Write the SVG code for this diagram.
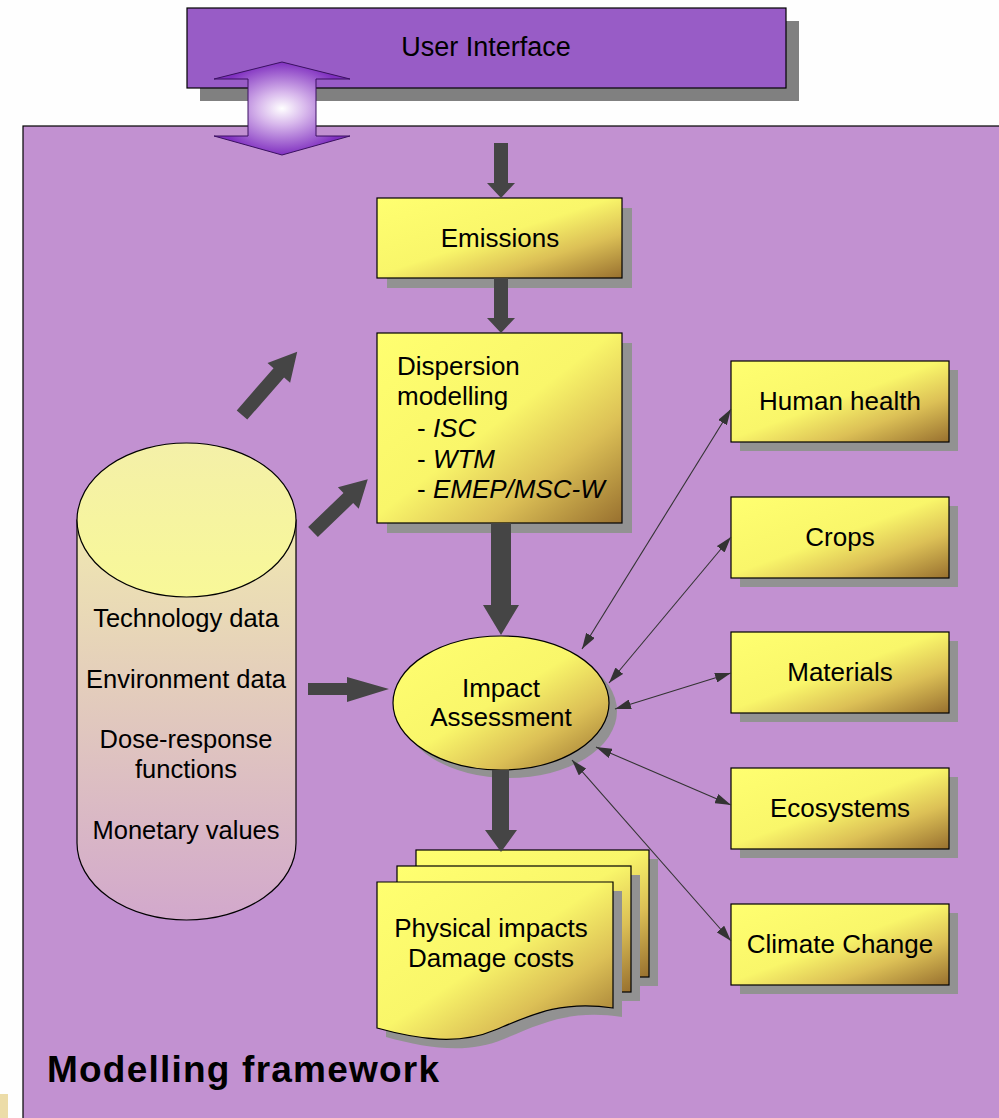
<svg xmlns="http://www.w3.org/2000/svg" width="999" height="1118" viewBox="0 0 999 1118">
<style>
text{font-family:"Liberation Sans",Arial,sans-serif;fill:#000;}
.t{font-size:26px;}
.c{text-anchor:middle;}
.box{stroke:#000;stroke-width:1.2;fill:url(#yel);}
.sh{fill:#929292;}
.dark{fill:#454545;}
.thin{stroke:#333;stroke-width:1.1;fill:none;marker-start:url(#ah);marker-end:url(#ah);}
</style>
<defs>
<linearGradient id="yel" x1="0" y1="0" x2="1" y2="1">
<stop offset="0" stop-color="#ffff70"/>
<stop offset="0.48" stop-color="#f9f66a"/>
<stop offset="0.72" stop-color="#dcc056"/>
<stop offset="1" stop-color="#98702f"/>
</linearGradient>
<linearGradient id="cyl" x1="0" y1="0" x2="0" y2="1">
<stop offset="0" stop-color="#f0e8b0"/>
<stop offset="1" stop-color="#d2a8cc"/>
</linearGradient>
<linearGradient id="cyltop" x1="0" y1="0" x2="0" y2="1">
<stop offset="0" stop-color="#f4f0a8"/>
<stop offset="1" stop-color="#f8f898"/>
</linearGradient>
<radialGradient id="glow" cx="0.5" cy="0.5" r="0.5">
<stop offset="0" stop-color="#ffffff"/>
<stop offset="0.35" stop-color="#d8b8ec"/>
<stop offset="1" stop-color="#8030c0"/>
</radialGradient>
<marker id="ah" viewBox="0 0 16 10" markerWidth="16" markerHeight="10" refX="16" refY="5" markerUnits="userSpaceOnUse" orient="auto-start-reverse">
<path d="M0,0 L16,5 L0,10 z" fill="#333"/>
</marker>
</defs>

<rect width="999" height="1118" fill="#fefefe"/>
<rect x="0" y="1094" width="8" height="24" fill="#ecdca8"/>

<g id="ui">
<rect x="200" y="21" width="599" height="80" fill="#808080"/>
<rect x="187" y="8" width="599" height="80" fill="#985cc6" stroke="#000" stroke-width="1.2"/>
<text class="c" font-size="27" x="486" y="56">User Interface</text>
</g>

<g id="framework">
<rect x="23" y="126" width="990" height="1010" fill="#c291d1" stroke="#000" stroke-width="1.2"/>
<text x="47" y="1082" font-size="37" font-weight="bold" textLength="392" lengthAdjust="spacing">Modelling framework</text>
</g>

<g id="ui-link">
<path d="M282,62 L350,79 L316,79 L316,136 L350,136 L282,155 L214,136 L248,136 L248,79 L214,79 Z" fill="url(#glow)" stroke="#3a1060" stroke-width="1"/>
</g>

<g id="emissions">
<rect class="sh" x="387" y="208" width="245" height="80"/>
<rect class="box" x="377" y="198" width="245" height="80"/>
<text class="t c" x="500" y="247">Emissions</text>
</g>

<g id="dispersion">
<rect class="sh" x="387" y="343" width="245" height="190"/>
<rect class="box" x="377" y="333" width="245" height="190"/>
<text class="t" x="397" y="375">Dispersion</text>
<text class="t" x="397" y="405">modelling</text>
<text class="t" x="417" y="437">- <tspan font-style="italic">ISC</tspan></text>
<text class="t" x="417" y="468">- <tspan font-style="italic">WTM</tspan></text>
<text class="t" x="417" y="498">- <tspan font-style="italic">EMEP/MSC-W</tspan></text>
</g>

<g id="data">
<path d="M77,520 L77,843 A109.5,77 0 0 0 296,843 L296,520 Z" fill="url(#cyl)" stroke="#000" stroke-width="1.2"/>
<ellipse cx="186.5" cy="520" rx="109.5" ry="77" fill="url(#cyltop)" stroke="#000" stroke-width="1.2"/>
<text class="c" font-size="25.5" x="186" y="627">Technology data</text>
<text class="c" font-size="25.5" x="186" y="688">Environment data</text>
<text class="c" font-size="25.5" x="186" y="748">Dose-response</text>
<text class="c" font-size="25.5" x="186" y="778">functions</text>
<text class="c" font-size="25.5" x="186" y="839">Monetary values</text>
</g>

<g id="impact">
<ellipse class="sh" cx="509" cy="711" rx="108" ry="67"/>
<ellipse class="box" cx="501" cy="703" rx="108" ry="67"/>
<text class="t c" x="501" y="697">Impact</text>
<text class="t c" x="501" y="726">Assessment</text>
</g>

<g id="results">
<rect class="sh" x="425" y="859" width="233" height="127"/>
<rect class="box" x="416" y="850" width="233" height="127"/>
<rect class="sh" x="406" y="875" width="234" height="126"/>
<rect class="box" x="397" y="866" width="234" height="126"/>
<path class="sh" d="M386,891 H622 V1017 C570,1009 540,1024 504,1039 C469,1054 429,1049 386,1037 Z"/>
<path class="box" d="M377,882 H613 V1008 C561,1000 531,1015 495,1030 C460,1045 420,1040 377,1028 Z"/>
<text class="t c" x="491" y="937">Physical impacts</text>
<text class="t c" x="491" y="967">Damage costs</text>
</g>

<g id="human-health">
<rect class="sh" x="740" y="370" width="218" height="81"/>
<rect class="box" x="731" y="361" width="218" height="81"/>
<text class="t c" x="840" y="410">Human health</text>
</g>
<g id="crops">
<rect class="sh" x="740" y="506" width="218" height="81"/>
<rect class="box" x="731" y="497" width="218" height="81"/>
<text class="t c" x="840" y="546">Crops</text>
</g>
<g id="materials">
<rect class="sh" x="740" y="641" width="218" height="81"/>
<rect class="box" x="731" y="632" width="218" height="81"/>
<text class="t c" x="840" y="681">Materials</text>
</g>
<g id="ecosystems">
<rect class="sh" x="740" y="777" width="218" height="81"/>
<rect class="box" x="731" y="768" width="218" height="81"/>
<text class="t c" x="840" y="817">Ecosystems</text>
</g>
<g id="climate-change">
<rect class="sh" x="740" y="913" width="218" height="81"/>
<rect class="box" x="731" y="904" width="218" height="81"/>
<text class="t c" x="840" y="953">Climate Change</text>
</g>

<g id="connectors">
<path class="dark" d="M494,143 H508 V183 H515 L501,198 L487,183 H494 Z"/>
<path class="dark" d="M494,278 H508 V318 H515 L501,333 L487,318 H494 Z"/>
<path class="dark" d="M491,523 H511 V605 H519 L501,635 L483,605 H491 Z"/>
<path class="dark" d="M492,770 H509 V830 H517 L501,852 L485,830 H492 Z"/>
<path class="dark" d="M308,683 H347 V677 L389,689 L347,702 V695 H308 Z"/>
<path class="dark" transform="translate(242,415) rotate(-48.9)" d="M0,-7 L56,-7 L56,-15 L84,0 L56,15 L56,7 L0,7 Z"/>
<path class="dark" transform="translate(313,532) rotate(-43.9)" d="M0,-7 L49,-7 L49,-15 L76,0 L49,15 L49,7 L0,7 Z"/>
<line class="thin" x1="582" y1="649" x2="731" y2="409"/>
<line class="thin" x1="609" y1="683" x2="731" y2="537"/>
<line class="thin" x1="615" y1="709" x2="731" y2="673"/>
<line class="thin" x1="596" y1="747" x2="731" y2="805"/>
<line class="thin" x1="572" y1="760" x2="731" y2="941"/>
</g>
</svg>
